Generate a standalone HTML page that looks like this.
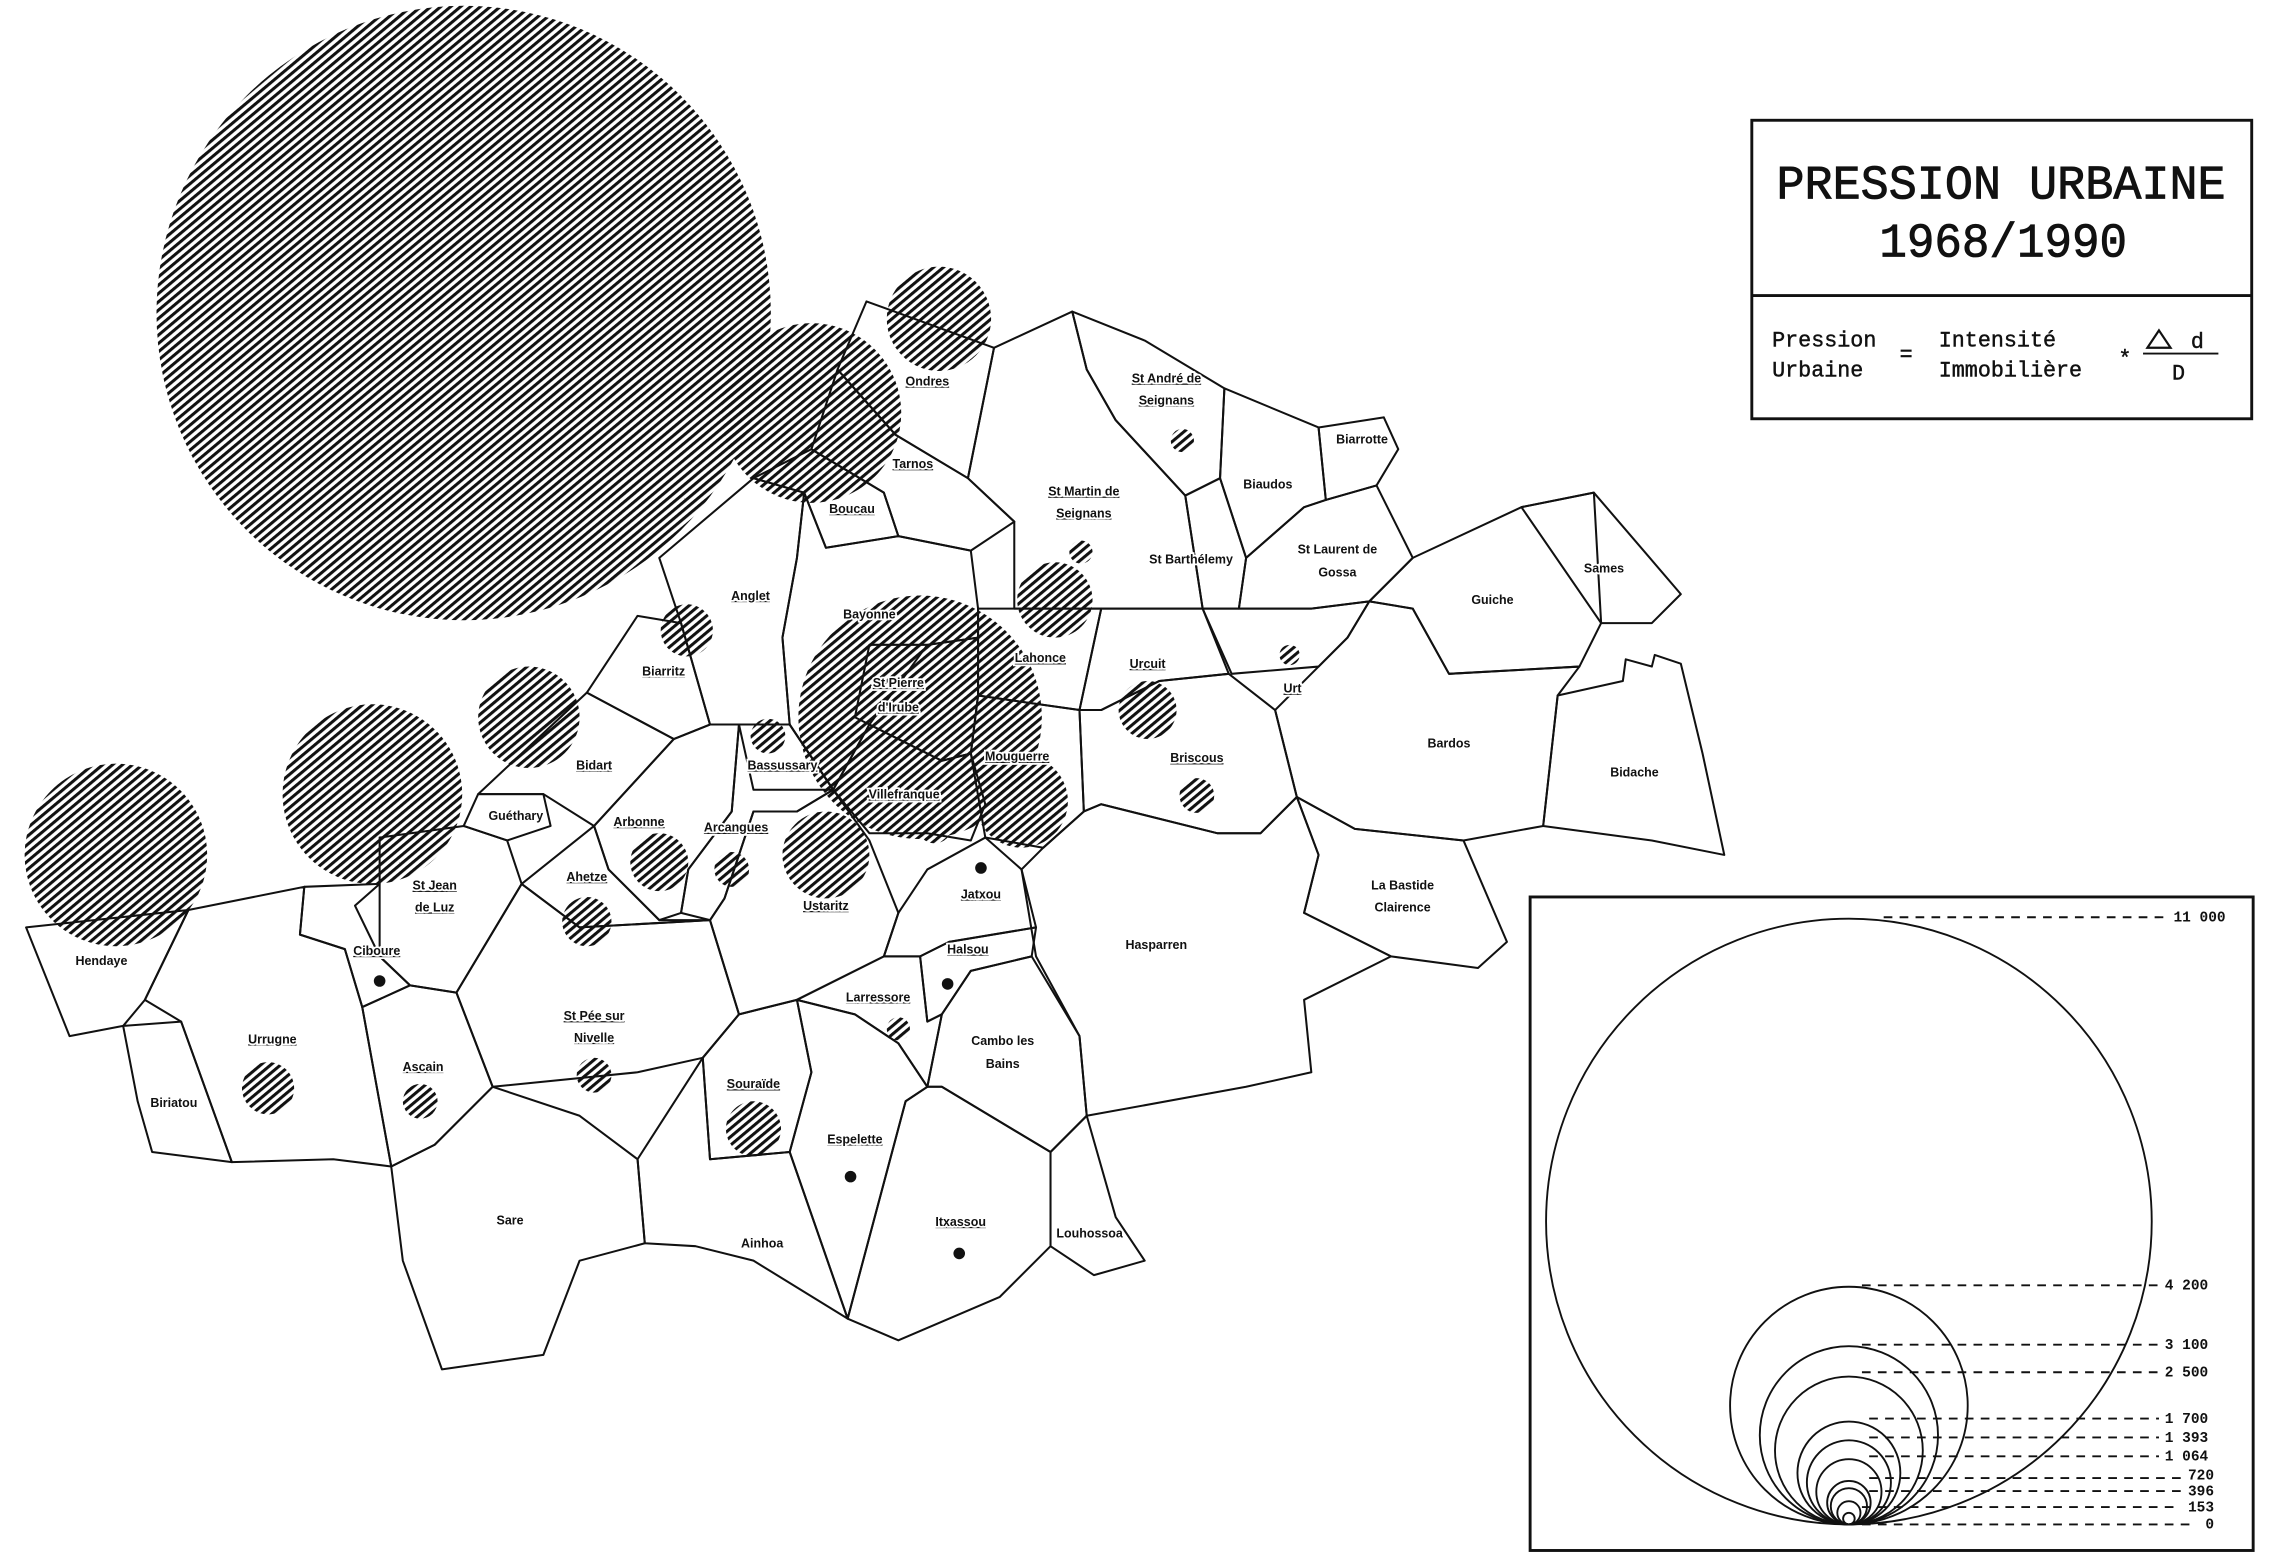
<!DOCTYPE html>
<html><head><meta charset="utf-8"><style>
html,body{margin:0;padding:0;background:#fff;}
svg{display:block;}
.l{font-family:"Liberation Sans",sans-serif;font-weight:bold;font-size:8.6px;text-anchor:middle;fill:#111;stroke:#fff;stroke-width:2.5px;paint-order:stroke;}
.m{font-family:"Liberation Mono",monospace;fill:#111;}
</style></head><body>
<svg width="2272" height="1567" viewBox="0 0 1568 1081.4" preserveAspectRatio="none" xmlns="http://www.w3.org/2000/svg">
<defs>
<pattern id="h" patternUnits="userSpaceOnUse" width="4.4" height="4.4" patternTransform="rotate(-40)">
<rect x="0" y="0" width="4.4" height="2.1" fill="#111"/>
</pattern>
</defs>
<rect width="1568" height="1081.4" fill="#fff"/>

<g fill="url(#h)">
<circle cx="320" cy="216" r="212"/>
<circle cx="648" cy="220" r="36"/>
<circle cx="560" cy="285" r="62"/>
<circle cx="474" cy="435" r="18"/>
<circle cx="365" cy="495" r="35"/>
<circle cx="257" cy="548" r="62"/>
<circle cx="80" cy="590" r="63"/>
<circle cx="635" cy="495" r="84"/>
<circle cx="728" cy="414" r="26"/>
<circle cx="705" cy="553" r="32"/>
<circle cx="792" cy="490" r="20"/>
<circle cx="645" cy="570" r="12"/>
<circle cx="570" cy="590" r="30"/>
<circle cx="455" cy="595" r="20"/>
<circle cx="505" cy="600" r="12"/>
<circle cx="405" cy="636" r="17"/>
<circle cx="530" cy="508" r="12"/>
<circle cx="816" cy="304" r="8"/>
<circle cx="746" cy="381" r="8"/>
<circle cx="890" cy="452" r="7"/>
<circle cx="826" cy="549" r="12"/>
<circle cx="620" cy="710" r="8"/>
<circle cx="185" cy="751" r="18"/>
<circle cx="290" cy="760" r="12"/>
<circle cx="410" cy="742" r="12"/>
<circle cx="520" cy="779" r="19"/>
</g>

<g fill="none" stroke="#111" stroke-width="1.4" stroke-linejoin="round">
<polygon points="598,208 686,240 668,330 618,300 578,255"/>
<polygon points="740,215 790,235 845,268 842,330 818,342 770,290 750,255"/>
<polygon points="686,240 740,215 750,255 770,290 818,342 830,420 760,420 700,420 700,360 668,330"/>
<polygon points="818,342 842,330 860,385 855,420 830,420"/>
<polygon points="845,268 910,295 915,345 900,350 860,385 842,330"/>
<polygon points="910,295 955,288 965,310 950,335 915,345"/>
<polygon points="915,345 950,335 975,385 945,415 905,420 855,420 860,385 900,350"/>
<polygon points="975,385 1050,350 1100,340 1105,430 1090,460 1000,465 975,420 945,415"/>
<polygon points="1050,350 1100,340 1160,410 1140,430 1105,430"/>
<polygon points="578,255 618,300 668,330 700,360 670,380 620,370 610,340 560,310"/>
<polygon points="520,330 560,310 610,340 620,370 570,378 555,340"/>
<polygon points="555,340 570,378 620,370 670,380 675,420 675,440 640,445 600,500 575,545 545,500 540,440 550,385"/>
<polygon points="600,445 640,445 675,440 675,480 670,520 650,525 590,495"/>
<polygon points="455,385 520,330 555,340 550,385 540,440 545,500 490,500 470,430"/>
<polygon points="405,478 440,425 470,430 490,500 465,510"/>
<polygon points="330,548 405,478 465,510 410,570 375,548"/>
<polygon points="330,548 375,548 380,570 350,580 320,570"/>
<polygon points="465,510 490,500 510,500 505,560 475,600 470,630 455,635 420,600 410,570"/>
<polygon points="510,500 545,500 575,545 550,560 520,560 500,620 490,635 470,630 475,600 505,560"/>
<polygon points="510,500 545,500 575,545 520,545"/>
<polygon points="360,610 410,570 420,600 455,635 490,635 400,640"/>
<polygon points="262,578 320,570 350,580 360,610 315,685 283,680 262,660 245,625 262,610"/>
<polygon points="210,612 262,610 262,660 283,680 250,695 238,655 207,645"/>
<polygon points="48,715 18,640 130,628 100,690 85,708"/>
<polygon points="130,628 210,612 207,645 238,655 250,695 270,805 230,800 160,802 125,705 100,690"/>
<polygon points="85,708 125,705 160,802 105,795 95,760"/>
<polygon points="250,695 283,680 315,685 340,750 300,790 270,805"/>
<polygon points="315,685 360,610 400,640 490,635 510,700 485,730 440,740 340,750"/>
<polygon points="270,805 300,790 340,750 400,770 440,800 445,858 400,870 375,935 305,945 278,870"/>
<polygon points="490,635 500,620 520,560 550,560 575,545 600,580 620,630 610,660 550,690 510,700"/>
<polygon points="575,545 600,500 650,525 670,520 680,555 670,580 640,575 600,575"/>
<polygon points="675,420 760,420 745,490 675,480"/>
<polygon points="675,480 745,490 748,560 720,585 680,578 670,520"/>
<polygon points="760,420 830,420 848,465 800,470 760,490 745,490"/>
<polygon points="830,420 905,420 945,415 930,440 910,460 850,465"/>
<polygon points="745,490 760,490 800,470 848,465 880,490 895,550 870,575 840,575 760,555 748,560"/>
<polygon points="910,460 930,440 945,415 975,420 1000,465 1090,460 1075,480 1065,570 1010,580 935,572 895,550 880,490"/>
<polygon points="1075,480 1120,470 1122,455 1140,460 1142,452 1160,458 1175,520 1190,590 1140,580 1065,570"/>
<polygon points="895,550 935,572 1010,580 1040,650 1020,668 960,660 900,630 910,590"/>
<polygon points="720,585 748,560 760,555 840,575 870,575 895,550 910,590 900,630 960,660 900,690 905,740 860,750 750,770 745,715 715,660 705,600"/>
<polygon points="610,660 620,630 640,600 680,578 705,600 715,640 655,650 635,660"/>
<polygon points="635,660 655,650 715,640 712,660 670,670 650,700 640,705"/>
<polygon points="550,690 610,660 635,660 640,705 650,700 640,750 620,720 590,700"/>
<polygon points="650,700 670,670 712,660 745,715 750,770 725,795 650,750 640,750"/>
<polygon points="485,730 510,700 550,690 560,740 545,795 490,800"/>
<polygon points="550,690 590,700 620,720 640,750 625,760 585,910 545,795 560,740"/>
<polygon points="445,858 440,800 485,730 490,800 545,795 585,910 520,870 480,860"/>
<polygon points="585,910 625,760 640,750 650,750 725,795 725,860 690,895 620,925"/>
<polygon points="725,795 750,770 770,840 790,870 755,880 725,860"/>
</g>

<g fill="#111">
<circle cx="262" cy="677" r="4"/><circle cx="677" cy="599" r="4"/><circle cx="654" cy="679" r="4"/>
<circle cx="587" cy="812" r="4"/><circle cx="662" cy="865" r="4"/>
</g>

<g class="l">
<text x="640" y="266" text-decoration="underline">Ondres</text>
<text x="805" y="264" text-decoration="underline">St André de</text>
<text x="805" y="279" text-decoration="underline">Seignans</text>
<text x="940" y="306">Biarrotte</text>
<text x="875" y="337">Biaudos</text>
<text x="630" y="323" text-decoration="underline">Tarnos</text>
<text x="588" y="354" text-decoration="underline">Boucau</text>
<text x="748" y="342" text-decoration="underline">St Martin de</text>
<text x="748" y="357" text-decoration="underline">Seignans</text>
<text x="822" y="389">St Barthélemy</text>
<text x="923" y="382">St Laurent de</text>
<text x="923" y="398">Gossa</text>
<text x="1030" y="417">Guiche</text>
<text x="1107" y="395">Sames</text>
<text x="518" y="414" text-decoration="underline">Anglet</text>
<text x="600" y="427">Bayonne</text>
<text x="620" y="474" text-decoration="underline">St Pierre</text>
<text x="620" y="491" text-decoration="underline">d'Irube</text>
<text x="718" y="457" text-decoration="underline">Lahonce</text>
<text x="792" y="461" text-decoration="underline">Urcuit</text>
<text x="892" y="478" text-decoration="underline">Urt</text>
<text x="458" y="466" text-decoration="underline">Biarritz</text>
<text x="410" y="531" text-decoration="underline">Bidart</text>
<text x="540" y="531" text-decoration="underline">Bassussary</text>
<text x="624" y="551" text-decoration="underline">Villefranque</text>
<text x="702" y="525" text-decoration="underline">Mouguerre</text>
<text x="826" y="526" text-decoration="underline">Briscous</text>
<text x="1000" y="516">Bardos</text>
<text x="1128" y="536">Bidache</text>
<text x="356" y="566">Guéthary</text>
<text x="441" y="570" text-decoration="underline">Arbonne</text>
<text x="508" y="574" text-decoration="underline">Arcangues</text>
<text x="405" y="608" text-decoration="underline">Ahetze</text>
<text x="300" y="614" text-decoration="underline">St Jean</text>
<text x="300" y="629" text-decoration="underline">de Luz</text>
<text x="570" y="628" text-decoration="underline">Ustaritz</text>
<text x="677" y="620" text-decoration="underline">Jatxou</text>
<text x="968" y="614">La Bastide</text>
<text x="968" y="629">Clairence</text>
<text x="798" y="655">Hasparren</text>
<text x="70" y="666">Hendaye</text>
<text x="260" y="659" text-decoration="underline">Ciboure</text>
<text x="668" y="658" text-decoration="underline">Halsou</text>
<text x="606" y="691" text-decoration="underline">Larressore</text>
<text x="410" y="704" text-decoration="underline">St Pée sur</text>
<text x="410" y="719" text-decoration="underline">Nivelle</text>
<text x="188" y="720" text-decoration="underline">Urrugne</text>
<text x="692" y="721">Cambo les</text>
<text x="692" y="737">Bains</text>
<text x="292" y="739" text-decoration="underline">Ascain</text>
<text x="520" y="751" text-decoration="underline">Souraïde</text>
<text x="120" y="764">Biriatou</text>
<text x="590" y="789" text-decoration="underline">Espelette</text>
<text x="352" y="845">Sare</text>
<text x="663" y="846" text-decoration="underline">Itxassou</text>
<text x="752" y="854">Louhossoa</text>
<text x="526" y="861">Ainhoa</text>
</g>

<rect x="1209" y="83" width="345" height="206" fill="none" stroke="#111" stroke-width="2"/>
<line x1="1209" y1="204" x2="1554" y2="204" stroke="#111" stroke-width="2"/>
<text class="m" x="1226" y="137" font-size="33" stroke="#111" stroke-width="0.6" textLength="310" lengthAdjust="spacingAndGlyphs">PRESSION URBAINE</text>
<text class="m" x="1297" y="177" font-size="33" stroke="#111" stroke-width="0.6" textLength="171" lengthAdjust="spacingAndGlyphs">1968/1990</text>
<g class="m" font-size="15" stroke="#111" stroke-width="0.3">
<text x="1223" y="239">Pression</text>
<text x="1223" y="260">Urbaine</text>
<text x="1311" y="249">=</text>
<text x="1338" y="239">Intensité</text>
<text x="1338" y="260">Immobilière</text>
<text x="1462" y="252">*</text>
<text x="1512" y="240">d</text>
<text x="1499" y="262">D</text>
</g>
<polygon points="1482,240 1490,228 1498,240" fill="none" stroke="#111" stroke-width="1.5"/>
<line x1="1479" y1="244" x2="1531" y2="244" stroke="#111" stroke-width="1.3"/>

<rect x="1056" y="619" width="499" height="451" fill="none" stroke="#111" stroke-width="2"/>
<g fill="none" stroke="#111" stroke-width="1.3">
<circle cx="1276" cy="843" r="209"/>
<circle cx="1276" cy="970" r="82"/>
<circle cx="1276" cy="990.5" r="61.5"/>
<circle cx="1276" cy="1001" r="51"/>
<circle cx="1276" cy="1016.5" r="35.5"/>
<circle cx="1276" cy="1023" r="29"/>
<circle cx="1276" cy="1029.5" r="22.5"/>
<circle cx="1276" cy="1037" r="15"/>
<circle cx="1276" cy="1039.5" r="12.5"/>
<circle cx="1276" cy="1044" r="8"/>
<circle cx="1276" cy="1048" r="4"/>
</g>
<g stroke="#111" stroke-width="1.3" stroke-dasharray="6,5">
<line x1="1300" y1="633" x2="1495" y2="633"/>
<line x1="1285" y1="887" x2="1490" y2="887"/>
<line x1="1285" y1="928" x2="1490" y2="928"/>
<line x1="1285" y1="947" x2="1490" y2="947"/>
<line x1="1290" y1="979" x2="1490" y2="979"/>
<line x1="1290" y1="992" x2="1490" y2="992"/>
<line x1="1290" y1="1005" x2="1490" y2="1005"/>
<line x1="1290" y1="1020" x2="1505" y2="1020"/>
<line x1="1290" y1="1029" x2="1505" y2="1029"/>
<line x1="1285" y1="1040" x2="1505" y2="1040"/>
<line x1="1285" y1="1052" x2="1515" y2="1052"/>
</g>
<g class="m" font-size="10" font-weight="bold">
<text x="1500" y="636">11 000</text>
<text x="1494" y="890">4 200</text>
<text x="1494" y="931">3 100</text>
<text x="1494" y="950">2 500</text>
<text x="1494" y="982">1 700</text>
<text x="1494" y="995">1 393</text>
<text x="1494" y="1008">1 064</text>
<text x="1510" y="1021">720</text>
<text x="1510" y="1032">396</text>
<text x="1510" y="1043">153</text>
<text x="1522" y="1055">0</text>
</g>
</svg>
</body></html>
